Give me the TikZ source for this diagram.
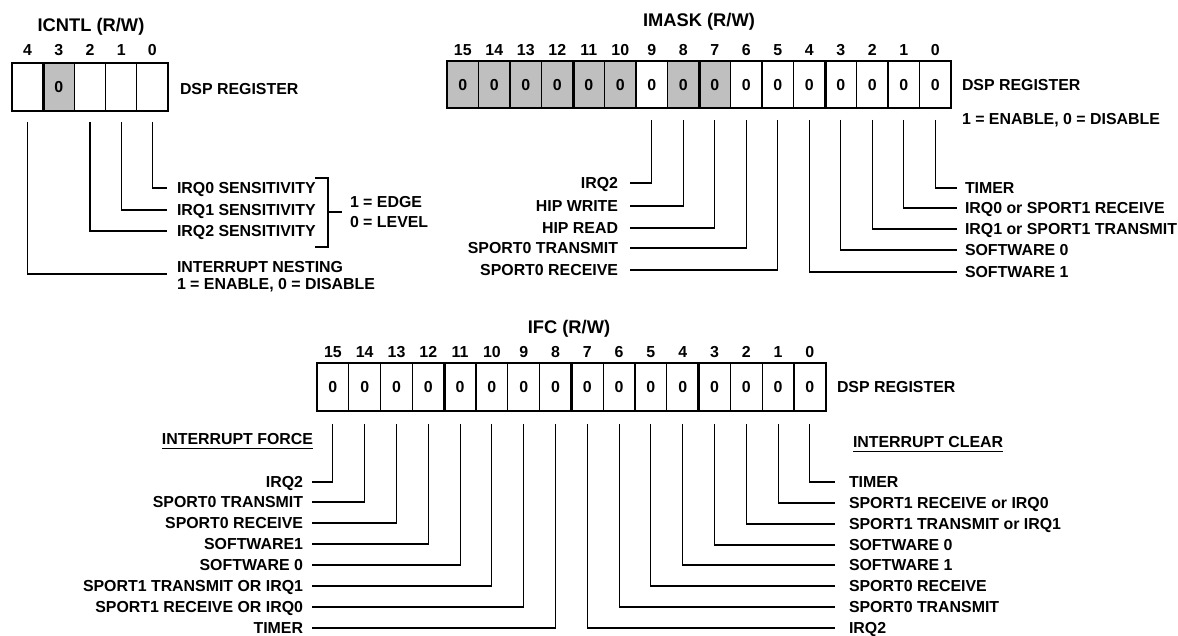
\documentclass[tikz,border=0pt]{standalone}
\usepackage{fontspec}
\setmainfont{Liberation Sans}
\begin{document}
\begin{tikzpicture}[x=1pt,y=-1pt,
  every node/.style={font=\fontsize{15.9}{18}\selectfont\bfseries, inner sep=0pt, outer sep=0pt, text height=11.4pt, text depth=0pt},
  ttl/.style={font=\fontsize{18.3}{22}\selectfont\bfseries, text height=13.1pt},
  cellbox/.style={draw, line width=1.3pt, fill=white},
  graycell/.style={cellbox, fill=gray!50},
  conn/.style={line width=1.1pt},
  outerbox/.style={line width=2pt},
  nibble/.style={line width=3pt}]
\useasboundingbox (0,0) rectangle (1178,636);

% ---------------- ICNTL ----------------
\node[ttl] (ictitle) at (91,25) {ICNTL (R/W)};
\tikzset{iccell/.style={minimum width=31.2pt, minimum height=48pt}}
\foreach \b in {0,1,2,4} \node[cellbox, iccell] (ic\b) at ({27.6+31.2*(4-\b)},87) {};
\node[graycell, iccell] (ic3) at ({27.6+31.2},87) {0};
\draw[outerbox] (ic4.north west) rectangle (ic0.south east);
\draw[nibble] (ic4.north east) -- (ic4.south east);
\foreach \b in {0,...,4} \node (icn\b) at ([yshift=13pt]ic\b.north) {\b};
\node[anchor=west] (icdsp) at (180,89) {DSP REGISTER};

\node[anchor=west] (irq0s) at (177,188) {IRQ0 SENSITIVITY};
\node[anchor=west] (irq1s) at (177,210) {IRQ1 SENSITIVITY};
\node[anchor=west] (irq2s) at (177,231) {IRQ2 SENSITIVITY};
\node[anchor=west] (nestA) at (177,267) {INTERRUPT NESTING};
\node[anchor=west] (nestB) at (177,284) {1 = ENABLE, 0 = DISABLE};
\draw[conn] ([yshift=-11pt]ic0.south) |- ([xshift=-10pt]irq0s.west);
\draw[conn] ([yshift=-11pt]ic1.south) |- ([xshift=-10pt]irq1s.west);
\draw[conn] ([yshift=-11pt]ic2.south) |- ([xshift=-10pt]irq2s.west);
\draw[conn] ([yshift=-11pt]ic4.south) |- ([xshift=-10pt,yshift=-7pt]nestA.west);
\draw[conn] (315,178) -- (328,178) -- (328,247) -- (315,247);
\draw[conn] (328,212) -- (342,212);
\node[anchor=west] (edge) at (350,202) {1 = EDGE};
\node[anchor=west] (level) at (350,222) {0 = LEVEL};

% ---------------- IMASK ----------------
\node[ttl] (mktitle) at (699,20) {IMASK (R/W)};
\tikzset{mkcell/.style={minimum width=31.5pt, minimum height=47pt}}
\foreach \b in {15,14,13,12,11,10,8,7} \node[graycell, mkcell] (mk\b) at ({462.75+31.5*(15-\b)},85) {0};
\foreach \b in {9,6,5,4,3,2,1,0} \node[cellbox, mkcell] (mk\b) at ({462.75+31.5*(15-\b)},85) {0};
\draw[outerbox] (mk15.north west) rectangle (mk0.south east);
\foreach \b in {12,8,4} \draw[nibble] (mk\b.north east) -- (mk\b.south east);
\foreach \b in {0,...,15} \node (mkn\b) at ([yshift=11.5pt]mk\b.north) {\b};
\node[anchor=west] (mkdsp) at (962,85) {DSP REGISTER};
\node[anchor=west] (mken) at (962,119) {1 = ENABLE, 0 = DISABLE};

\node[anchor=east] (mkl9) at (618,183) {IRQ2};
\node[anchor=east] (mkl8) at (618,206) {HIP WRITE};
\node[anchor=east] (mkl7) at (618,228) {HIP READ};
\node[anchor=east] (mkl6) at (618,248) {SPORT0 TRANSMIT};
\node[anchor=east] (mkl5) at (618,270) {SPORT0 RECEIVE};
\foreach \b in {9,8,7,6,5} \draw[conn] ([yshift=-11.5pt]mk\b.south) |- ([xshift=12pt]mkl\b.east);

\node[anchor=west] (mkl0) at (965,188) {TIMER};
\node[anchor=west] (mkl1) at (965,208) {IRQ0 or SPORT1 RECEIVE};
\node[anchor=west] (mkl2) at (965,229) {IRQ1 or SPORT1 TRANSMIT};
\node[anchor=west] (mkl3) at (965,250) {SOFTWARE 0};
\node[anchor=west] (mkl4) at (965,272) {SOFTWARE 1};
\foreach \b in {0,...,4} \draw[conn] ([yshift=-11.5pt]mk\b.south) |- ([xshift=-8pt]mkl\b.west);

% ---------------- IFC ----------------
\node[ttl] (iftitle) at (569,327) {IFC (R/W)};
\tikzset{ifcell/.style={minimum width=31.8pt, minimum height=48pt}}
\foreach \b in {0,...,15} \node[cellbox, ifcell] (if\b) at ({332.9+31.8*(15-\b)},387) {0};
\draw[outerbox] (if15.north west) rectangle (if0.south east);
\foreach \b in {12,8,4} \draw[nibble] (if\b.north east) -- (if\b.south east);
\foreach \b in {0,...,15} \node (ifn\b) at ([yshift=11pt]if\b.north) {\b};
\node[anchor=west] (ifdsp) at (837,387) {DSP REGISTER};

\node[anchor=east] (iforce) at (313,439) {INTERRUPT FORCE};
\draw[line width=1.4pt] ([yshift=-3.5pt]iforce.south west) -- ([yshift=-3.5pt]iforce.south east);
\node[anchor=west] (iclear) at (853,442) {INTERRUPT CLEAR};
\draw[line width=1.4pt] ([yshift=-3.5pt]iclear.south west) -- ([yshift=-3.5pt]iclear.south east);

\node[anchor=east] (ifl15) at (303,482) {IRQ2};
\node[anchor=east] (ifl14) at (303,502) {SPORT0 TRANSMIT};
\node[anchor=east] (ifl13) at (303,523) {SPORT0 RECEIVE};
\node[anchor=east] (ifl12) at (303,544) {SOFTWARE1};
\node[anchor=east] (ifl11) at (303,565) {SOFTWARE 0};
\node[anchor=east] (ifl10) at (303,586) {SPORT1 TRANSMIT OR IRQ1};
\node[anchor=east] (ifl9) at (303,607) {SPORT1 RECEIVE OR IRQ0};
\node[anchor=east] (ifl8) at (303,628) {TIMER};
\foreach \b in {8,...,15} \draw[conn] ([yshift=-13pt]if\b.south) |- ([xshift=9pt]ifl\b.east);

\node[anchor=west] (ifl0) at (849,482) {TIMER};
\node[anchor=west] (ifl1) at (849,503) {SPORT1 RECEIVE or IRQ0};
\node[anchor=west] (ifl2) at (849,524) {SPORT1 TRANSMIT or IRQ1};
\node[anchor=west] (ifl3) at (849,545) {SOFTWARE 0};
\node[anchor=west] (ifl4) at (849,565) {SOFTWARE 1};
\node[anchor=west] (ifl5) at (849,586) {SPORT0 RECEIVE};
\node[anchor=west] (ifl6) at (849,607) {SPORT0 TRANSMIT};
\node[anchor=west] (ifl7) at (849,628) {IRQ2};
\foreach \b in {0,...,7} \draw[conn] ([yshift=-13pt]if\b.south) |- ([xshift=-14pt]ifl\b.west);
\end{tikzpicture}
\end{document}
